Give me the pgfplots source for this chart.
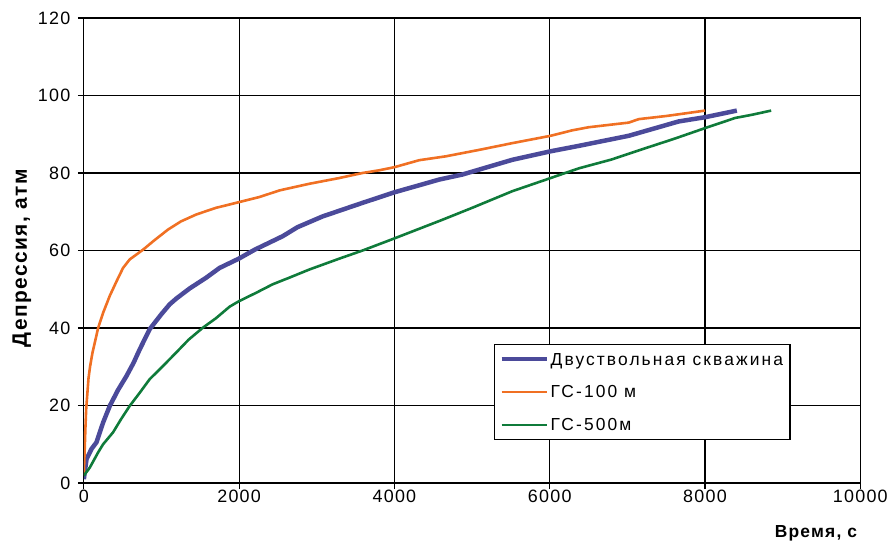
\documentclass[border=0pt]{standalone}
\usepackage{pgfplots}
\pgfplotsset{compat=1.18}
\usepackage{fontspec}
\setmainfont[LetterSpace=7]{Liberation Sans}
\newfontfamily\legfont[LetterSpace=12]{Liberation Sans}
\definecolor{cblue}{HTML}{4B4A9A}
\definecolor{corange}{HTML}{F07023}
\definecolor{cgreen}{HTML}{0F7B3A}
\begin{document}
\begin{tikzpicture}
\begin{axis}[
  at={(0,0)}, anchor=south west,
  scale only axis, width=778bp, height=466bp,
  xmin=0, xmax=10000, ymin=0, ymax=120,
  xtick={0,2000,...,10000}, ytick={0,20,...,120},
  scaled x ticks=false,
  /pgf/number format/1000 sep={},
  /pgf/number format/assume math mode=true,
  grid=major, grid style={black, line width=1.1bp},
  axis line style={black, line width=1.1bp},
  tick style={black, line width=1.1bp},
  tick align=outside, major tick length=6bp,
  xtick pos=bottom, ytick pos=left,
  tick label style={font=\fontsize{18}{21}\selectfont},
  yticklabel style={xshift=-4bp},
  xticklabel style={yshift=3bp},
  xlabel={Время, с}, ylabel={Депрессия, атм},
  xlabel style={font=\fontsize{17.5}{20}\selectfont\bfseries, at={(rel axis cs:1,0)}, anchor=base east, yshift=-55bp, xshift=-3bp, inner sep=0pt},
  ylabel style={font=\fontsize{21}{24}\selectfont\bfseries, at={(rel axis cs:0,0.5)}, anchor=center, yshift=62bp, xshift=-8bp, inner sep=0pt},
  legend cell align=left,
  legend style={at={(rel axis cs:0.528,0.300)}, anchor=north west, draw=black, line width=1.1bp,
    font=\fontsize{17.5}{20}\selectfont\legfont, inner sep=5bp, row sep=13bp,
    nodes={inner sep=2bp, text height=14bp, text depth=2bp, line width=0.4pt}},
  legend image code/.code={\draw[#1] (0bp,0bp) -- (45bp,0bp);},
]
\addplot[cblue, line width=4.5bp] coordinates {
(0,1)(13,3)(35,6.2)(99,8.8)(163,10.5)(248,15.6)(334,19.9)(440,24)(549,27.6)(640,31)(720,34.5)(848,39.7)(1000,43.6)(1105,46.1)(1191,47.6)(1362,50.2)(1577,53)(1748,55.5)(1996,57.9)(2200,60.2)(2562,63.7)(2750,66)(3076,68.8)(3590,72.3)(3997,75.0)(4576,78.3)(4875,79.6)(5518,83.4)(6012,85.6)(6375,87.0)(7018,89.6)(7661,93.3)(8003,94.4)(8410,96.1)
};
\addlegendentry{Двуствольная скважина}
\addplot[corange, line width=2.6bp] coordinates {
(0,2)(10,8)(20,14)(30,19)(45,23)(60,27)(80,30)(110,33.5)(150,37)(184,40)(250,44)(334,48.3)(420,52)(505,55.5)(591,57.7)(680,59)(762,60.2)(900,62.5)(1084,65.4)(1250,67.5)(1449,69.3)(1700,71)(1983,72.4)(2262,73.8)(2519,75.5)(2900,77.2)(3290,78.7)(3590,80)(3805,80.7)(4000,81.5)(4319,83.3)(4662,84.3)(5100,86)(5518,87.7)(6012,89.6)(6289,91.0)(6500,91.8)(7018,93.0)(7147,93.9)(7500,94.7)(7789,95.5)(8000,96.1)
};
\addlegendentry{ГС-100 м}
\addplot[cgreen, line width=2.6bp] coordinates {
(0,1.9)(77,4)(184,7.9)(248,10)(377,13.1)(480,16.5)(591,19.9)(720,23.3)(848,26.8)(1000,29.8)(1191,33.7)(1350,37)(1534,40.1)(1700,42.5)(1877,45.5)(1996,46.9)(2220,49.1)(2434,51.3)(2648,53)(2905,55.1)(3290,57.9)(3590,60)(3997,63.1)(4576,67.6)(5000,71)(5518,75.3)(6012,78.7)(6375,81.2)(6800,83.5)(7233,86.4)(7600,88.8)(8003,91.6)(8389,94.2)(8600,95)(8852,96.1)
};
\addlegendentry{ГС-500м}
\end{axis}
\path[use as bounding box] (-84bp,-64bp) rectangle (807bp,484bp);
\end{tikzpicture}
\end{document}
